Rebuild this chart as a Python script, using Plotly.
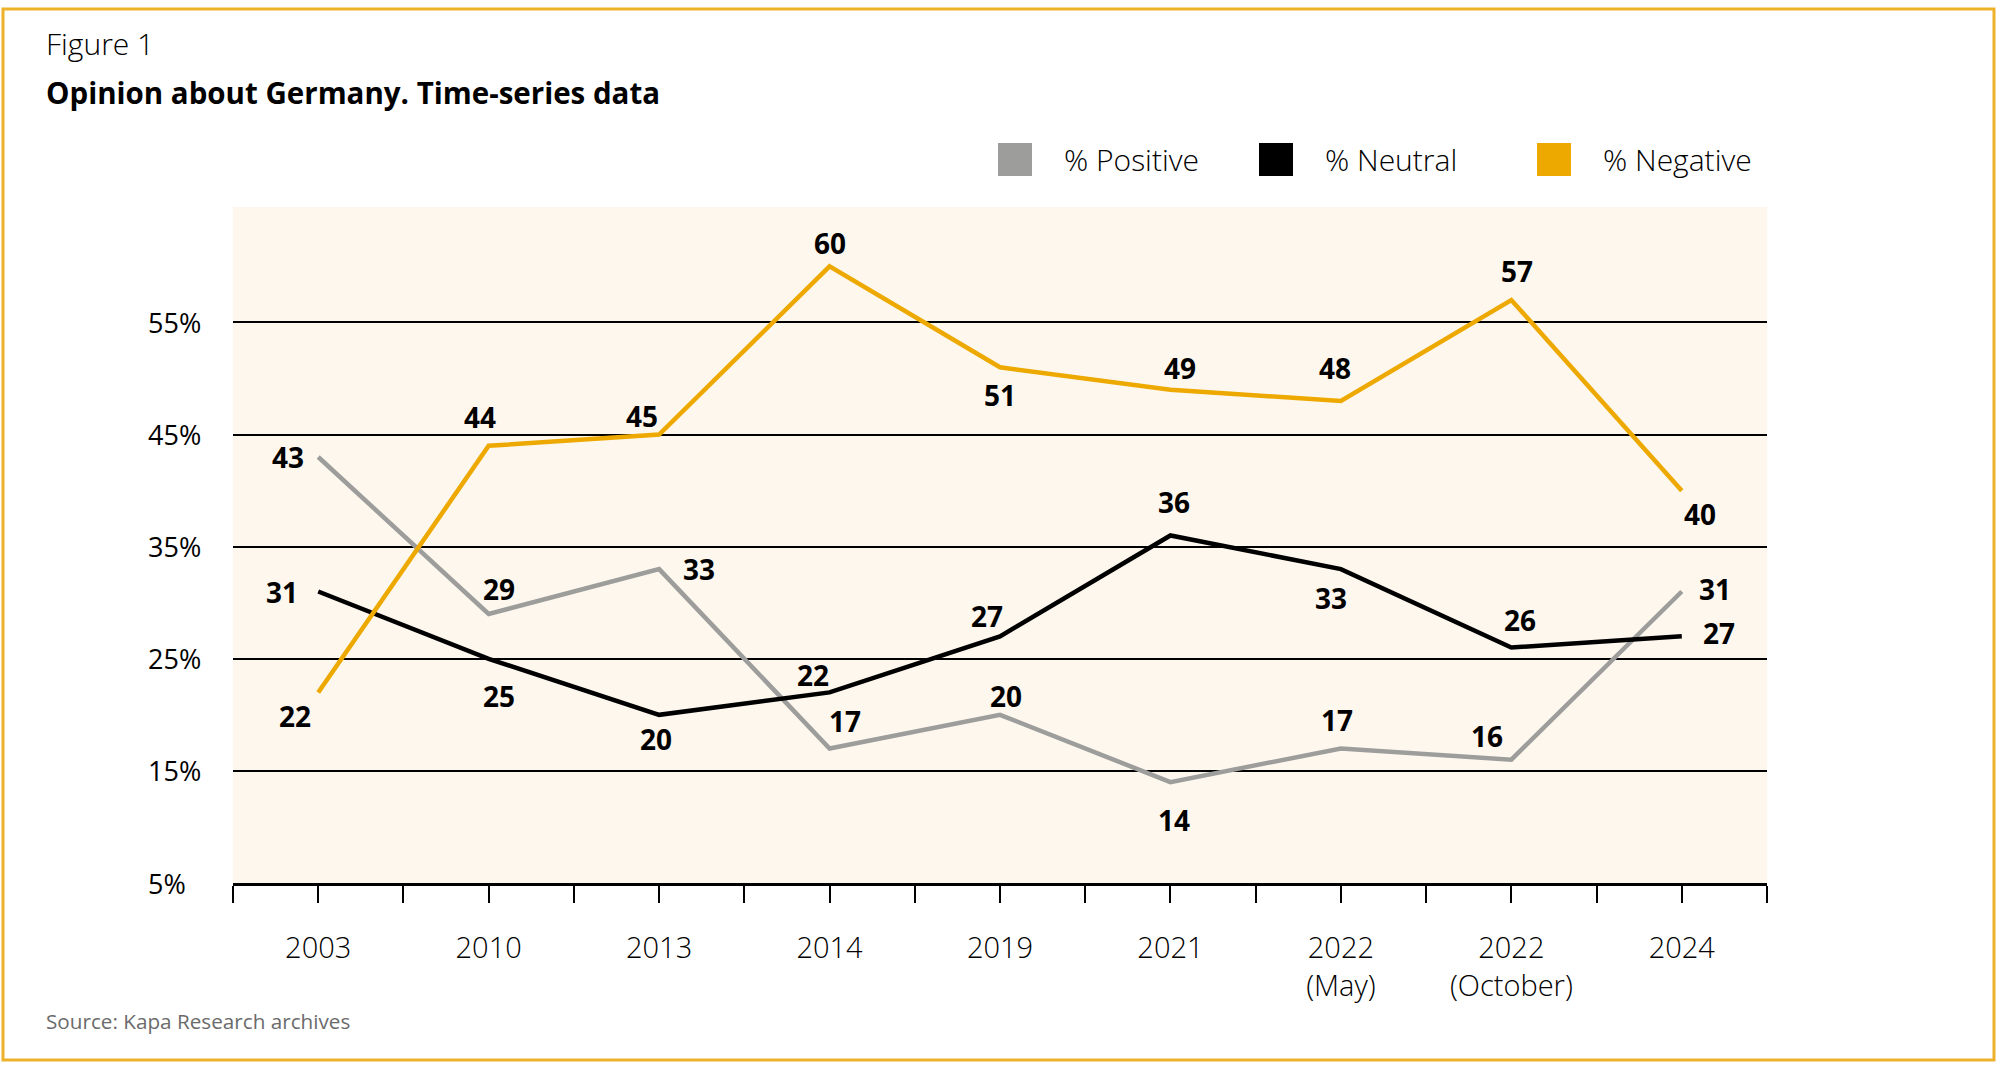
import plotly.graph_objects as go

# ---- data ----
categories = ["2003", "2010", "2013", "2014", "2019", "2021", "2022<br>(May)", "2022<br>(October)", "2024"]
positive = [43, 29, 33, 17, 20, 14, 17, 16, 31]
neutral = [31, 25, 20, 22, 27, 36, 33, 26, 27]
negative = [22, 44, 45, 60, 51, 49, 48, 57, 40]
y_ticks = [5, 15, 25, 35, 45, 55]
series_names = ["% Positive", "% Neutral", "% Negative"]

# ---- styling ----
W, H = 2000, 1066
PL, PR, PT, PB = 233, 1767, 207, 883
FONT = "Open Sans"
colors = ["#9D9D9C", "#000000", "#EDA900"]

# label offsets (px) for each series point
pos_off = [(-30, 0), (10, 25), (40, 0), (15, 27), (6, 19), (4, -38), (-4, 28), (-24, 24), (33, 3)]
neu_off = [(-36, 0), (10, -37), (-3, -24), (-17, 17), (-13, 20), (4, 33), (-10, -29), (9, 28), (37, 3)]
neg_off = [(-23, -24), (-9, 29), (-17, 19), (0, 23), (0, -28), (10, 22), (-6, 33), (6, 29), (18, -23)]


def px(X):
    return (X - PL) / (PR - PL)


def py(Y):
    return (PB - Y) / (PB - PT)


xs = list(range(len(categories)))
fig = go.Figure()
annotations = []
for name, vals, col, offs in zip(series_names, [positive, neutral, negative], colors, [pos_off, neu_off, neg_off]):
    fig.add_trace(go.Scatter(x=xs, y=vals, mode="lines", name=name,
                             line=dict(color=col, width=4.5), showlegend=False))
    for xi, v, (dx, dy) in zip(xs, vals, offs):
        annotations.append(dict(x=xi, y=v, xref="x", yref="y", text=f"<b>{v}</b>",
                                showarrow=False, xshift=dx, yshift=dy,
                                font=dict(family=FONT, size=28, color="#000000")))

# y tick labels, left-aligned
for t in y_ticks:
    annotations.append(dict(x=px(146), y=t, xref="paper", yref="y", text=f"{t}%",
                            xanchor="left", showarrow=False,
                            font=dict(family=FONT, size=27, color="#000000")))

# titles and source
annotations.append(dict(x=px(44), y=py(43), xref="paper", yref="paper", text="Figure 1",
                        xanchor="left", yanchor="middle", showarrow=False,
                        font=dict(family=FONT, size=30, color="#000000", weight=300)))
annotations.append(dict(x=px(44), y=py(93), xref="paper", yref="paper",
                        text="<b>Opinion about Germany. Time-series data</b>",
                        xanchor="left", yanchor="middle", showarrow=False,
                        font=dict(family=FONT, size=29.5, color="#000000")))
annotations.append(dict(x=px(44), y=py(1021), xref="paper", yref="paper",
                        text="Source: Kapa Research archives",
                        xanchor="left", yanchor="middle", showarrow=False,
                        font=dict(family=FONT, size=20.7, color="#6B6B6B")))

# legend (squares + text)
shapes = []
legend_sq = [998, 1259, 1537]
legend_tx = [1062, 1323, 1601]
for name, col, sx, tx in zip(series_names, colors, legend_sq, legend_tx):
    shapes.append(dict(type="rect", xref="paper", yref="paper",
                       x0=px(sx), x1=px(sx + 34), y0=py(176), y1=py(143),
                       fillcolor=col, line=dict(width=0)))
    annotations.append(dict(x=px(tx), y=py(159), xref="paper", yref="paper", text=name,
                            xanchor="left", yanchor="middle", showarrow=False,
                            font=dict(family=FONT, size=30, color="#000000", weight=300)))

# outer golden frame
shapes.append(dict(type="rect", xref="paper", yref="paper",
                   x0=px(3), x1=px(1994), y0=py(1060), y1=py(9),
                   line=dict(color="#EDB22A", width=3), fillcolor="rgba(0,0,0,0)", layer="below"))

fig.update_layout(
    width=W, height=H,
    margin=dict(l=PL, r=W - PR, t=PT, b=H - PB),
    paper_bgcolor="#FFFFFF",
    plot_bgcolor="#FDF7EE",
    showlegend=False,
    annotations=annotations,
    shapes=shapes,
    xaxis=dict(
        range=[-0.5, 8.5], tickmode="array", tickvals=xs, ticktext=categories,
        showgrid=False, zeroline=False,
        showline=True, linecolor="#000000", linewidth=3,
        ticks="outside", ticklen=17, tickwidth=2, tickcolor="#000000",
        minor=dict(ticks="outside", ticklen=17, tickwidth=2, tickcolor="#000000",
                   tick0=-0.5, dtick=0.5, showgrid=False),
        ticklabelstandoff=20,
        tickfont=dict(family=FONT, size=29, color="#000000", weight=300),
        fixedrange=True,
    ),
    yaxis=dict(
        range=[5, 65.3], tickmode="array", tickvals=y_ticks,
        showticklabels=False, showgrid=True, gridcolor="#000000", gridwidth=2,
        zeroline=False, showline=False, fixedrange=True,
    ),
)

fig.write_html("out.html")
